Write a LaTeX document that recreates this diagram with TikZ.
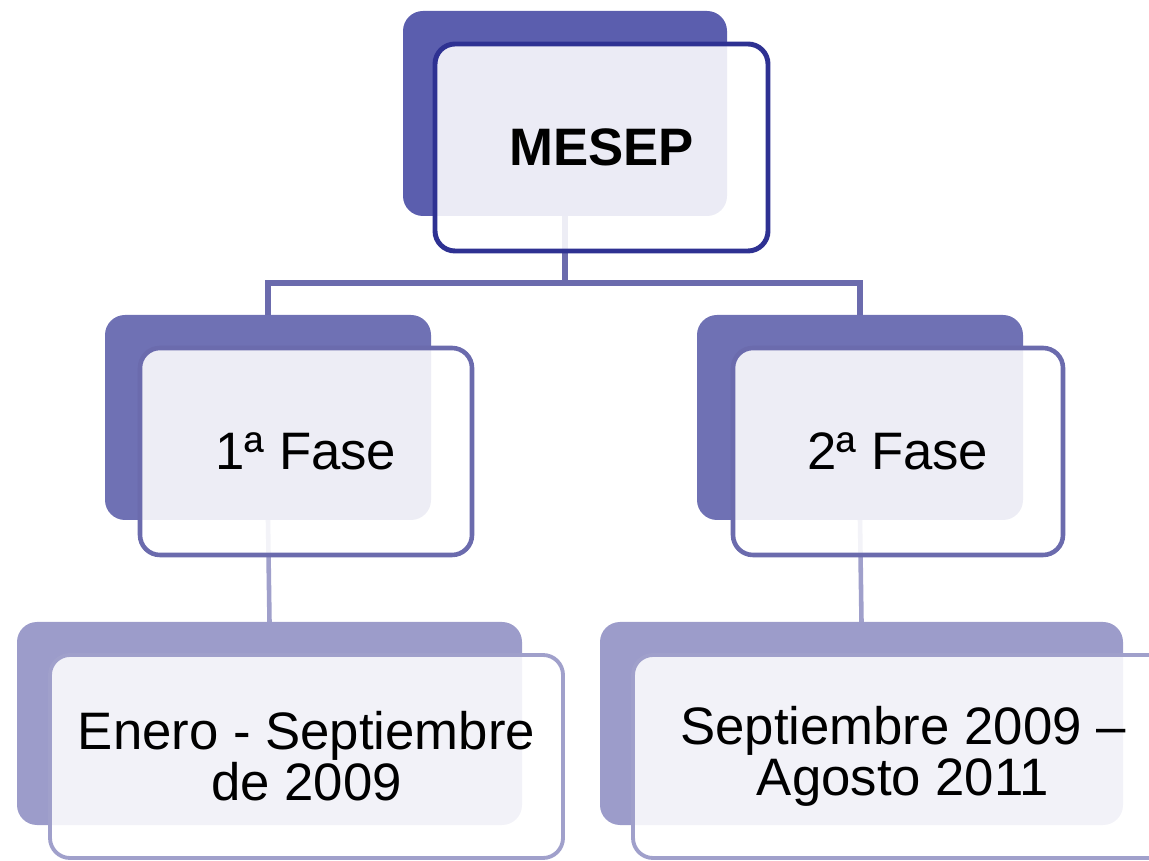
\documentclass[tikz,border=0pt]{standalone}
\usepackage{fontspec}
\setmainfont{Liberation Sans}
\usetikzlibrary{positioning,backgrounds}

\definecolor{topback}{HTML}{5B5EAE}
\definecolor{topline}{HTML}{2E3192}
\definecolor{midback}{HTML}{6F71B4}
\definecolor{midline}{HTML}{6B6BAD}
\definecolor{lowback}{HTML}{9C9CCA}
\definecolor{lowline}{HTML}{A0A0CB}

\tikzset{
  backbox/.style={rounded corners=0.2cm, inner sep=0pt, outer sep=0pt,
    minimum width=#1, minimum height=2.05cm},
  frontbox/.style={draw, rounded corners=0.2cm, inner sep=0pt, outer sep=0pt,
    fill=white, fill opacity=0.88, text opacity=1, line width=1.3pt,
    minimum width=#1, minimum height=2.07cm, align=center,
    font=\fontsize{15}{14.5}\selectfont},
  conn/.style={line width=1.6pt, draw=midline},
  connlow/.style={line width=1.3pt, draw=lowline}
}

\begin{document}
\begin{tikzpicture}
  \useasboundingbox (0,0) rectangle (11.49,-8.61);

  %% top
  \node[backbox=3.24cm, fill=topback] (mesepback) at (5.65,-1.135) {};
  \node[frontbox=3.33cm, draw=topline, line width=1.4pt, shift={(0.365,-0.34)}] (mesep) at (mesepback) {\textbf{MESEP}};

  %% phases
  \node[backbox=3.26cm, fill=midback] (fase1back) at (2.68,-4.175) {};
  \node[frontbox=3.32cm, draw=midline, shift={(0.38,-0.34)}] (fase1) at (fase1back) {1ª Fase};

  \node[backbox=3.26cm, fill=midback] (fase2back) at (8.60,-4.175) {};
  \node[frontbox=3.30cm, draw=midline, shift={(0.38,-0.34)}] (fase2) at (fase2back) {2ª Fase};

  %% periods
  \node[backbox=5.05cm, fill=lowback, minimum height=2.03cm] (per1back) at (2.695,-7.235) {};
  \node[frontbox=5.13cm, draw=lowline, line width=1.1pt, minimum height=2.03cm, shift={(0.37,-0.33)}] (per1) at (per1back) {Enero - Septiembre\\de 2009};

  \node[backbox=5.23cm, fill=lowback, minimum height=2.03cm] (per2back) at (8.615,-7.235) {};
  \node[frontbox=5.40cm, draw=lowline, line width=1.1pt, minimum height=2.03cm, shift={(0.415,-0.33)}] (per2) at (per2back) {Septiembre 2009 –\\Agosto 2011};

  \coordinate (split) at (5.65,-2.83);

  \begin{scope}[on background layer]
    \draw[conn] (mesepback.south) -- (split);
    \draw[conn] (fase1back.north) |- (split) -| (fase2back.north);
    \draw[connlow] (fase1back.south) -- (per1back.north);
    \draw[connlow] (fase2back.south) -- (per2back.north);
  \end{scope}
\end{tikzpicture}
\end{document}
